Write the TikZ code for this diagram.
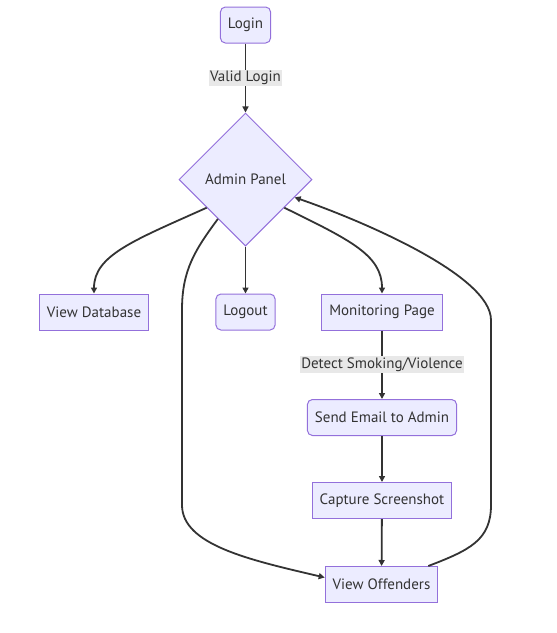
\documentclass[tikz,border=0pt]{standalone}
\usepackage{fontspec}
\setmainfont{PT Sans}
\usetikzlibrary{positioning,shapes.geometric,arrows.meta}
\definecolor{nodefill}{HTML}{ECECFF}
\definecolor{nodeline}{HTML}{9370DB}
\definecolor{edgeline}{HTML}{333333}
\definecolor{labelbg}{HTML}{E8E8E8}

\begin{document}
\begin{tikzpicture}[x=1pt, y=-1pt, font=\fontsize{15}{17}\selectfont, text=edgeline,
   stepbox/.style={draw=nodeline, fill=nodefill, line width=1pt, minimum height=36pt, inner xsep=7.5pt},
   roundbox/.style={stepbox, rounded corners=5pt},
   decision/.style={draw=nodeline, fill=nodefill, line width=1pt, diamond, aspect=1, minimum size=133pt, inner sep=0pt},
   edgelabel/.style={fill=labelbg, inner sep=1.5pt},
   arrow/.style={-{Triangle[length=6pt,width=6pt]}, line width=1.8pt, draw=edgeline}
]
\useasboundingbox (0,0) rectangle (557,633);

% Nodes
\node [roundbox] (login) at (245.5,25) {Login};
\node [decision] (admin) at (245.5,179.5) {Admin Panel};
\node [stepbox] (viewdb) at (94,312) {View Database};
\node [roundbox] (logout) at (245.5,312) {Logout};
\node [stepbox] (monitor) at (382,312) {Monitoring Page};
\node [roundbox] (email) at (382,417.5) {Send Email to Admin};
\node [stepbox] (capture) at (382,500.5) {Capture Screenshot};
\node [stepbox] (viewoff) at (381.5,584.5) {View Offenders};

% Connections
\draw [arrow] (login) -- node [edgelabel] {Valid Login} (admin);
\draw [arrow] (admin.216) .. controls (135,240) and (94,255) .. (viewdb.north);
\draw [arrow] (admin.south) -- (logout.north);
\draw [arrow] (admin.-36) .. controls (350,240) and (382,255) .. (monitor.north);
\draw [arrow] (admin.235) .. controls (195,250) and (182,270) .. (182,310) -- (182,505)
   .. controls (182,545) and (250,560) .. ([yshift=7pt]viewoff.west);
\draw [arrow] (monitor) -- node [edgelabel] {Detect Smoking/Violence} (email);
\draw [arrow] (email) -- (capture);
\draw [arrow] (capture) -- (viewoff);
\draw [arrow] ([xshift=-10pt]viewoff.north east) .. controls (470,550) and (491,540) .. (491,505)
   -- (491,320) .. controls (491,275) and (360,220) .. (admin.-20);

\end{tikzpicture}
\end{document}
